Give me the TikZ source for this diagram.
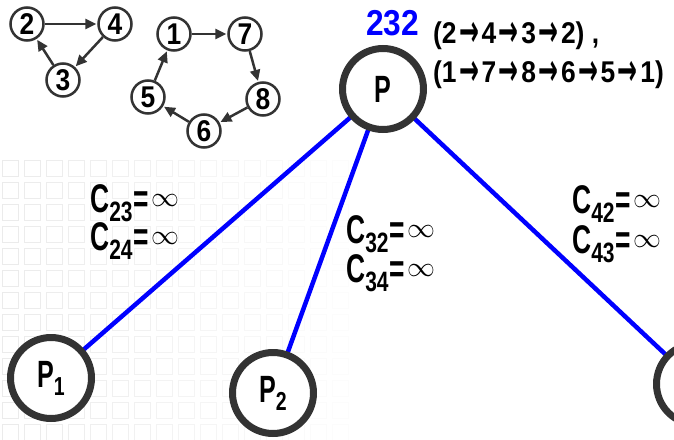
\documentclass[tikz,border=0pt]{standalone}
\usepackage{fontspec}
\newfontfamily\cf[FakeStretch=0.66]{Liberation Sans}
\newfontfamily\cfs[FakeStretch=0.75]{Liberation Sans}
\newfontfamily\cfn[FakeStretch=0.88]{Liberation Sans}
\newfontfamily\arr{DejaVu Sans}
\usetikzlibrary{arrows.meta}
\definecolor{dk}{HTML}{333333}
\definecolor{bl}{HTML}{0000FF}
\newcommand\Inf{\raisebox{6pt}{\fontsize{24.88}{25}\selectfont\scalebox{1.12}{$\infty$}}}
\newcommand\Cl[1]{C\raisebox{-9pt}{\cfs\bfseries\fontsize{28}{28}\selectfont #1}\kern1pt=\kern2pt\Inf}
\newcommand\Pl[1]{P\raisebox{-8pt}{\cfs\bfseries\fontsize{26}{26}\selectfont #1}}
\newcommand\ar{\makebox[25pt]{\arr\bfseries\fontsize{28}{28}\selectfont\smash{\raisebox{-3pt}{\scalebox{0.85}[1.6]{→}}}}}
\tikzset{
  big/.style={circle, draw=dk, line width=7pt, fill=white, minimum size=81pt, inner sep=0pt,
    font=\cf\bfseries\fontsize{38}{38}\selectfont},
  small/.style={circle, draw=dk, line width=2.5pt, fill=white, minimum size=33pt, inner sep=0pt,
    font=\cfn\bfseries\fontsize{30}{30}\selectfont},
  edge/.style={bl, line width=4.5pt},
  sarr/.style={dk, line width=2.5pt, -{Triangle[length=11pt,width=10pt]}, shorten >=1pt},
  lab/.style={inner sep=0pt, anchor=base west, font=\cf\bfseries\fontsize{40}{40}\selectfont},
  cyc/.style={inner sep=0pt, anchor=base west, font=\cfn\bfseries\fontsize{30}{30}\selectfont}
}
\begin{document}
\begin{tikzpicture}[x=1pt,y=-1pt]
\useasboundingbox (0,0) rectangle (674,439);
% faint background texture
\foreach \i in {0,...,15}{
  \foreach \j in {0,...,12}{
    \pgfmathsetmacro\op{max(0,0.08-0.0045*\i)}
    \draw[black, opacity=\op, line width=0.8pt] (\i*22+2,160+\j*22) rectangle ++(16,16);
  }
}
% small graphs
\node[small] (n2) at (27,24) {2};
\node[small] (n4) at (115,24) {4};
\node[small] (n3) at (63,80) {3};
\node[small] (n1) at (174,34) {1};
\node[small] (n7) at (245,34) {7};
\node[small] (n8) at (263,99) {8};
\node[small] (n6) at (204,131) {6};
\node[small] (n5) at (148,97) {5};
\draw[sarr] (n2) -- (n4);
\draw[sarr] (n4) -- (n3);
\draw[sarr] (n3) -- (n2);
\draw[sarr] (n1) -- (n7);
\draw[sarr] (n7) -- (n8);
\draw[sarr] (n8) -- (n6);
\draw[sarr] (n6) -- (n5);
\draw[sarr] (n5) -- (n1);
% tree
\coordinate (cP) at (383,89);
\coordinate (c1) at (51,378);
\coordinate (c2) at (273,393);
\coordinate (c3) at (697,384);
\draw[edge] (cP) -- (c1);
\draw[edge] (cP) -- (c2);
\draw[edge] (cP) -- (c3);
\node[big] (P) at (cP) {P};
\node[big] (P1) at (c1) {\Pl{1}};
\node[big] (P2) at (c2) {\Pl{2}};
\node[big] (P3) at (c3) {};
% labels
\node[inner sep=0pt, anchor=base west, text=bl, font=\cfn\bfseries\fontsize{36}{36}\selectfont] (val) at (366,35) {232};
\node[cyc] (cy1) at (433,43) {(2\ar4\ar3\ar2) ,};
\node[cyc] (cy2) at (433,82) {(1\ar7\ar8\ar6\ar5\ar1)};
\node[lab] (l23) at (90,212) {\Cl{23}};
\node[lab] (l24) at (90,250) {\Cl{24}};
\node[lab] (l32) at (346,243) {\Cl{32}};
\node[lab] (l34) at (346,282) {\Cl{34}};
\node[lab] (l42) at (572,213) {\Cl{42}};
\node[lab] (l43) at (572,253) {\Cl{43}};
\end{tikzpicture}
\end{document}
